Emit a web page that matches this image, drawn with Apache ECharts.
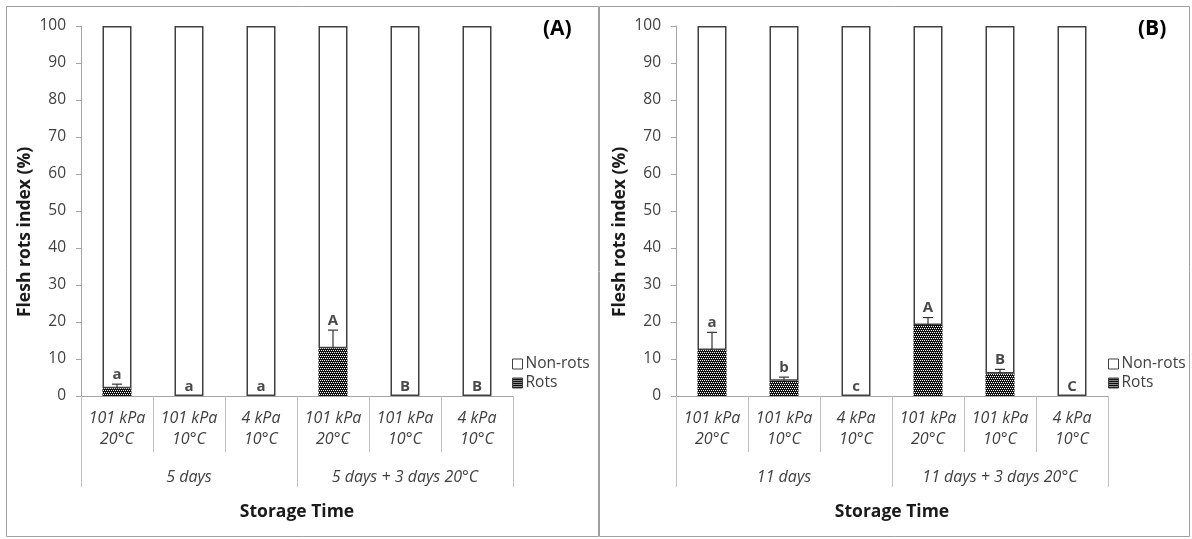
<!DOCTYPE html>
<html><head><meta charset="utf-8">
<script src="https://cdn.jsdelivr.net/npm/echarts@6/dist/echarts.min.js"></script>
<style>html,body{margin:0;padding:0;background:#fff}#c{width:1192px;height:539px}</style>
</head><body><div id="c"></div>
<script>
const categories = ['101 kPa\n20°C','101 kPa\n10°C','4 kPa\n10°C','101 kPa\n20°C','101 kPa\n10°C','4 kPa\n10°C'];
const groupsA = ['5 days','5 days + 3 days 20°C'];
const groupsB = ['11 days','11 days + 3 days 20°C'];
const yTicks = [0,10,20,30,40,50,60,70,80,90,100];
const rotsA = [2.1, 0, 0, 12.9, 0, 0];
const nonRotsA = [97.9, 100, 100, 87.1, 100, 100];
const errA = [1.1, 0, 0, 4.9, 0, 0];
const lettersA = ['a','a','a','A','B','B'];
const rotsB = [12.4, 4.1, 0, 19.2, 6.1, 0];
const nonRotsB = [87.6, 95.9, 100, 80.8, 93.9, 100];
const errB = [4.8, 1.0, 0, 2.0, 1.1, 0];
const lettersB = ['a','b','c','A','B','C'];

const FONT = '"Open Sans", sans-serif';
const TXT = '#404040';
const AX = '#a6a6a6';

// checker pattern for Rots
const pc = document.createElement('canvas');
pc.width = 4; pc.height = 4;
const g = pc.getContext('2d');
g.fillStyle = '#111'; g.fillRect(0,0,4,4);
g.fillStyle = '#fff';
g.fillRect(0,0,1,1); g.fillRect(2,0,1,1); g.fillRect(1,2,1,1); g.fillRect(3,2,1,1);
const pattern = {image: pc, repeat: 'repeat'};

const chart = echarts.init(document.getElementById('c'));

function panel(idx, left, groups, rots, nonRots, err, letters) {
  const grid = {left: left, top: 26, width: 432, height: 370};
  const xCat = {
    type: 'category', gridIndex: idx, data: categories, position: 'bottom',
    axisLine: {show: true, lineStyle: {color: AX, width: 1}},
    axisTick: {show: true, length: 56, interval: 0, lineStyle: {color: '#bfbfbf'}},
    axisLabel: {interval: 0, margin: 12, fontFamily: FONT, fontStyle: 'italic', fontSize: 16, lineHeight: 21, color: TXT},
    splitLine: {show: false}
  };
  const xGrp = {
    type: 'category', gridIndex: idx, data: groups, position: 'bottom',
    axisLine: {show: false},
    axisTick: {show: true, length: 91, interval: 0, lineStyle: {color: '#bfbfbf'}},
    axisLabel: {interval: 0, margin: 73, fontFamily: FONT, fontStyle: 'italic', fontSize: 16, color: TXT},
    name: 'Storage Time', nameLocation: 'middle', nameGap: 107,
    nameTextStyle: {fontFamily: FONT, fontWeight: 'bold', fontSize: 17.5, color: '#1a1a1a'}
  };
  const y = {
    type: 'value', gridIndex: idx, min: 0, max: 100, interval: 10,
    axisLine: {show: true, lineStyle: {color: AX}},
    axisTick: {show: true, length: 5, lineStyle: {color: AX}},
    axisLabel: {fontFamily: FONT, fontSize: 15.5, color: TXT, margin: 15,
      formatter: v => yTicks.indexOf(v) >= 0 ? String(v) : ''},
    splitLine: {show: false},
    name: 'Flesh rots index (%)', nameLocation: 'middle', nameGap: 47,
    nameTextStyle: {fontFamily: FONT, fontWeight: 'bold', fontSize: 17.5, color: '#1a1a1a', padding: [0, 42, 0, 0]}
  };
  const xi = idx * 2;
  const series = [
    {name: 'Rots', type: 'bar', xAxisIndex: xi, yAxisIndex: idx, stack: 's' + idx, barWidth: 29,
      data: rots, itemStyle: {color: pattern, borderColor: '#404040', borderWidth: 0}, emphasis: {disabled: true}},
    {name: 'Non-rots', type: 'bar', xAxisIndex: xi, yAxisIndex: idx, stack: 's' + idx, barWidth: 29,
      data: nonRots, itemStyle: {color: '#fff', borderColor: '#404040', borderWidth: 1.5}, emphasis: {disabled: true}},
    {type: 'custom', xAxisIndex: xi, yAxisIndex: idx, z: 5,
      data: rots.map((r, i) => [i, r, r + err[i]]),
      renderItem: function (params, api) {
        const i = api.value(0), lo = api.value(1), hi = api.value(2);
        if (hi - lo <= 0) return null;
        const p0 = api.coord([i, lo]), p1 = api.coord([i, hi]);
        const st = {stroke: '#333', lineWidth: 1.2};
        return {type: 'group', children: [
          {type: 'line', shape: {x1: p0[0], y1: p0[1], x2: p1[0], y2: p1[1]}, style: st},
          {type: 'line', shape: {x1: p1[0] - 5, y1: p1[1], x2: p1[0] + 5, y2: p1[1]}, style: st}
        ]};
      }},
    {type: 'scatter', xAxisIndex: xi, yAxisIndex: idx, symbolSize: 0, z: 6,
      data: rots.map((r, i) => r + err[i]),
      label: {show: true, position: 'top', distance: 2, fontFamily: FONT, fontWeight: 'bold', fontSize: 15, color: '#1a1a1a',
        formatter: p => letters[p.dataIndex]}}
  ];
  return {grid, xAxes: [xCat, xGrp], y, series};
}

const A = panel(0, 81, groupsA, rotsA, nonRotsA, errA, lettersA);
const B = panel(1, 676, groupsB, rotsB, nonRotsB, errB, lettersB);

function legend(left) {
  return {left: left, top: 351, orient: 'vertical', itemWidth: 10, itemHeight: 10, itemGap: 3, icon: 'rect',
    data: ['Non-rots', 'Rots'], selectedMode: false,
    itemStyle: {borderColor: '#404040', borderWidth: 1},
    textStyle: {fontFamily: FONT, fontSize: 15.5, color: TXT, padding: [0, 0, 0, -2]}};
}

chart.setOption({
  animation: false,
  backgroundColor: '#fff',
  title: [
    {text: '(A)', left: 538, top: 14, textStyle: {fontFamily: FONT, fontWeight: 'bold', fontSize: 21, color: '#000'}},
    {text: '(B)', left: 1133, top: 14, textStyle: {fontFamily: FONT, fontWeight: 'bold', fontSize: 21, color: '#000'}}
  ],
  legend: [legend(507), legend(1103)],
  grid: [A.grid, B.grid],
  xAxis: [A.xAxes[0], A.xAxes[1], B.xAxes[0], B.xAxes[1]],
  yAxis: [A.y, B.y],
  series: A.series.concat(B.series),
  graphic: [
    {type: 'rect', shape: {x: 6.5, y: 6.5, width: 592, height: 530}, style: {fill: 'none', stroke: '#a0a0a0', lineWidth: 1}, silent: true},
    {type: 'rect', shape: {x: 599.5, y: 6.5, width: 590, height: 530}, style: {fill: 'none', stroke: '#a0a0a0', lineWidth: 1}, silent: true}
  ]
});
</script>
</body></html>
